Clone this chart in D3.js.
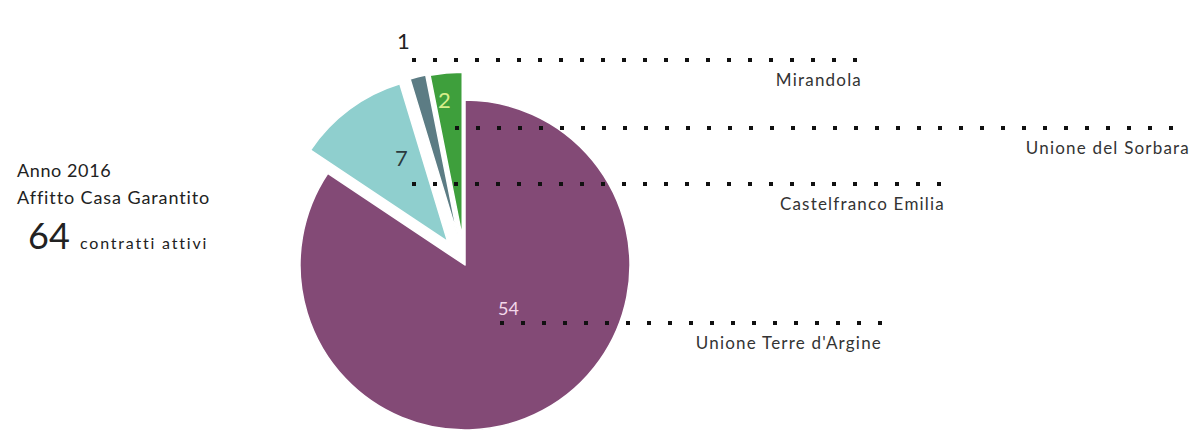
<!DOCTYPE html>
<html lang="it">
<head>
    <meta charset="UTF-8">
    <title>Affitto Casa Garantito 2016</title>
    <script src="https://d3js.org/d3.v7.min.js"></script>
    <style>
        body { margin: 0; background: #fff; }
        svg { display: block; font-family: Lato, "Noto Sans", sans-serif; }
        .leader { stroke: #111; stroke-width: 4; stroke-dasharray: 4 17; fill: none; }
        .name { fill: #333; font-size: 17px; letter-spacing: 1.2px; text-anchor: end; }
        .value { font-size: 22px; }
    </style>
</head>
<body>
    <svg id="chart"></svg>

    <script>
        // data
        const comuni = ["Unione Terre d'Argine", "Castelfranco Emilia", "Mirandola", "Unione del Sorbara"];
        const contratti = [54, 7, 1, 2];
        const anno = "2016";
        const titolo = "Affitto Casa Garantito";
        const totale = d3.sum(contratti);

        // layout of the annotations (one entry per slice, same order)
        const colors = ["#834a76", "#8fcfce", "#5c7c84", "#3e9f3c"];
        const valueColors = ["#f3d7ea", "#2b3a3e", "#222", "#d6ee8a"];
        const explode = [0, 29, 29, 28];
        const leaders = [
            { y: 323, x1: 500, x2: 882, labelDx: -2, labelDy: -8 },
            { y: 184, x1: 412, x2: 945, labelDx: -17, labelDy: -18 },
            { y: 60, x1: 412, x2: 862, labelDx: -15, labelDy: -11 },
            { y: 128, x1: 455, x2: 1190, labelDx: -17, labelDy: -20 }
        ];

        const width = 1194;
        const height = 430;
        const cx = 465, cy = 265, radius = 165;

        const svg = d3.select("#chart").attr("width", width).attr("height", height);

        const color = d3.scaleOrdinal().domain(comuni).range(colors);

        const pie = d3.pie().sort(null).value(d => d.value);
        const arcs = pie(comuni.map((c, i) => ({ name: c, value: contratti[i], i: i })));
        const arc = d3.arc().innerRadius(0).outerRadius(radius);

        const g = svg.append("g").attr("transform", `translate(${cx},${cy})`);

        g.selectAll(".slice")
            .data(arcs)
            .enter().append("path")
            .attr("class", "slice")
            .attr("d", arc)
            .attr("fill", d => color(d.data.name))
            .attr("stroke", "#fff")
            .attr("stroke-width", 1.5)
            .attr("stroke-linejoin", "round")
            .attr("transform", d => {
                const mid = (d.startAngle + d.endAngle) / 2;
                const off = explode[d.data.i];
                return `translate(${Math.sin(mid) * off},${-Math.cos(mid) * off})`;
            });

        // dotted leader lines
        svg.selectAll(".leader")
            .data(arcs)
            .enter().append("line")
            .attr("class", "leader")
            .attr("x1", d => leaders[d.data.i].x1)
            .attr("x2", d => leaders[d.data.i].x2)
            .attr("y1", d => leaders[d.data.i].y)
            .attr("y2", d => leaders[d.data.i].y);

        // names under the leader lines
        svg.selectAll(".name")
            .data(arcs)
            .enter().append("text")
            .attr("class", "name")
            .attr("x", d => leaders[d.data.i].x2)
            .attr("y", d => leaders[d.data.i].y + 26)
            .text(d => d.data.name);

        // values
        svg.selectAll(".value")
            .data(arcs)
            .enter().append("text")
            .attr("class", "value")
            .attr("x", d => leaders[d.data.i].x1 + leaders[d.data.i].labelDx)
            .attr("y", d => leaders[d.data.i].y + leaders[d.data.i].labelDy)
            .attr("fill", d => valueColors[d.data.i])
            .style("font-size", d => d.data.i === 0 ? "18px" : "22px")
            .text(d => d.data.value);

        // left caption
        const cap = svg.append("g").attr("fill", "#222").style("letter-spacing", "0.6px");
        cap.append("text").attr("x", 17).attr("y", 177).style("font-size", "18px").text("Anno " + anno);
        cap.append("text").attr("x", 17).attr("y", 204).style("font-size", "18px").style("letter-spacing", "0.9px").text(titolo);
        cap.append("text").attr("x", 28).attr("y", 249).style("font-size", "36px").style("letter-spacing", "0px").text(totale);
        cap.append("text").attr("x", 80).attr("y", 249).style("font-size", "16px").style("letter-spacing", "1.8px").text("contratti attivi");
    </script>
</body>
</html>
